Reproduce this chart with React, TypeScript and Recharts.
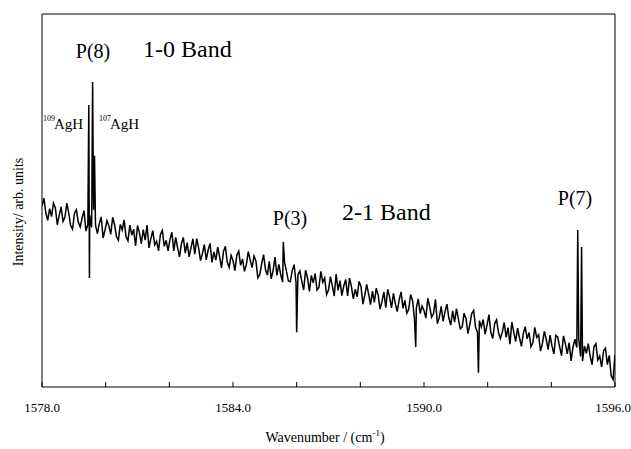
import { LineChart, Line, XAxis, YAxis, ReferenceArea } from 'recharts'

// spectrum sampled every 0.06 cm-1 from 1578.0 to 1596.0
const wnStart = 1578.0
const wnStep = 0.06

const intensity = [
  48.5, 50.6, 46.7, 44.7, 47.8, 45.7, 49.3, 48.0, 43.5, 46.0,
  48.3, 44.4, 45.5, 49.3, 46.6, 43.3, 42.3, 46.6, 47.5, 44.2,
  42.9, 45.3, 47.3, 41.8, 43.6, 46.0, 42.8, 47.5, 43.5, 41.1,
  43.8, 45.6, 39.9, 42.1, 44.6, 43.2, 40.9, 45.5, 43.5, 40.3,
  39.4, 43.6, 42.1, 44.8, 40.3, 39.2, 43.4, 40.7, 42.3, 37.8,
  43.3, 41.4, 38.4, 42.2, 39.4, 43.4, 37.3, 39.8, 41.9, 38.1,
  39.1, 36.5, 40.9, 42.0, 37.7, 39.3, 36.5, 39.6, 41.5, 36.5,
  40.1, 37.3, 34.9, 38.4, 40.1, 35.9, 38.7, 34.9, 37.3, 39.7,
  35.6, 39.8, 37.3, 33.9, 35.8, 38.2, 34.1, 36.8, 38.5, 33.4,
  36.2, 34.0, 37.5, 34.9, 31.9, 36.3, 37.7, 33.5, 32.1, 35.3,
  33.9, 31.2, 35.3, 36.4, 32.6, 34.3, 31.0, 32.8, 36.3, 34.0,
  32.0, 35.1, 33.8, 29.3, 30.1, 33.0, 35.5, 31.5, 30.0, 33.7,
  29.0, 31.2, 34.8, 29.9, 32.9, 30.1, 28.1, 33.4, 31.0, 28.4,
  28.2, 31.2, 32.8, 28.0, 30.1, 31.1, 28.4, 26.0, 31.3, 29.3,
  25.6, 29.9, 27.9, 30.4, 26.0, 26.7, 31.0, 28.1, 29.2, 24.8,
  26.0, 29.6, 27.1, 24.4, 30.3, 25.9, 28.5, 24.5, 27.1, 28.8,
  24.4, 29.2, 26.9, 23.6, 26.2, 24.2, 28.3, 27.0, 22.2, 24.6,
  27.5, 24.9, 22.1, 25.7, 22.7, 26.5, 24.6, 20.9, 22.9, 25.5,
  21.3, 26.2, 24.1, 21.2, 25.1, 22.3, 20.2, 23.4, 25.5, 21.1,
  23.2, 19.8, 20.8, 24.8, 23.2, 18.4, 21.2, 23.6, 19.7, 21.7,
  20.5, 18.5, 23.8, 21.4, 18.7, 19.7, 23.5, 17.0, 18.6, 21.6,
  17.6, 20.2, 22.2, 18.5, 16.6, 20.4, 17.4, 21.0, 18.2, 15.6,
  16.1, 19.8, 18.3, 14.3, 16.8, 19.7, 20.5, 16.0, 14.7, 17.8,
  16.1, 18.1, 14.2, 16.6, 19.4, 14.6, 13.0, 17.0, 18.0, 14.6,
  13.0, 14.7, 17.3, 13.3, 15.9, 11.5, 17.4, 14.7, 12.2, 15.8,
  13.2, 10.9, 14.4, 16.2, 12.9, 14.6, 10.8, 11.9, 16.0, 13.3,
  14.0, 9.6, 11.7, 14.9, 12.8, 10.0, 13.9, 11.0, 8.9, 13.8,
  13.4, 10.8, 8.4, 13.7, 11.7, 8.9, 11.9, 7.0, 10.6, 12.8,
  10.6, 13.0, 8.2, 6.9, 11.0, 9.0, 11.6, 8.3, 6.0, 10.8,
  11.6, 7.2, 8.3, 5.4, 9.7, 10.4, 6.0, 8.5, 3.0, 2.0,
  8.6,
]

// sharp lines (peaks and dips) lying between grid samples
const lineWn = [1579.47, 1579.49, 1579.59, 1579.65, 1585.58, 1586.0, 1589.74, 1591.71, 1594.83, 1594.95]
const lineInt = [75.6, 29.2, 81.8, 62.0, 38.9, 14.7, 10.7, 3.8, 42.1, 37.5]

const xTicks = [1578, 1580, 1582, 1584, 1586, 1588, 1590, 1592, 1594, 1596]
const xTickLabels = [1578, 1584, 1590, 1596]

const data = intensity
  .map((v, i) => ({ wn: +(wnStart + i * wnStep).toFixed(3), v }))
  .concat(lineWn.map((wn, i) => ({ wn, v: lineInt[i] })))
  .sort((a, b) => a.wn - b.wn)

const serif = '"Liberation Serif", "Times New Roman", "DejaVu Serif", serif'

function WnTick(props: any) {
  const { x, y, payload } = props
  const show = xTickLabels.includes(payload.value)
  return (
    <g>
      <line x1={x} x2={x} y1={y - 5} y2={y} stroke="#000" strokeWidth={1} />
      {show && (
        <text x={payload.value === 1596 ? x - 2 : x} y={y + 25} textAnchor="middle" fill="#000"
          style={{ fontFamily: serif, fontSize: 13 }}>
          {payload.value.toFixed(1)}
        </text>
      )}
    </g>
  )
}

function T({ x, y, size, anchor, children, transform }: any) {
  return (
    <text x={x} y={y} textAnchor={anchor || 'start'} transform={transform} fill="#000"
      style={{ fontFamily: serif, fontSize: size }}>
      {children}
    </text>
  )
}

export default function App() {
  return (
    <div style={{ position: 'absolute', left: 0, top: 0, width: 631, height: 449, background: '#fff' }}>
      <LineChart width={631} height={449} data={data} margin={{ top: 14, right: 16, left: 42, bottom: 0 }}>
        <XAxis
          type="number"
          dataKey="wn"
          domain={[1578, 1596]}
          ticks={xTicks}
          height={62}
          axisLine={false}
          tickLine={false}
          tickSize={0}
          tickMargin={0}
          tick={<WnTick />}
          allowDataOverflow
        />
        <YAxis hide domain={[0, 100]} allowDataOverflow />
        <ReferenceArea x1={1578} x2={1596} y1={0} y2={100} fill="none" stroke="#000" strokeWidth={1} fillOpacity={0} />
        <Line type="linear" dataKey="v" stroke="#000" strokeWidth={1.5} dot={false} isAnimationActive={false} />
      </LineChart>
      <svg width={631} height={449} style={{ position: 'absolute', left: 0, top: 0, pointerEvents: 'none' }}>
        <T x={93} y={58} size={20} anchor="middle">P(8)</T>
        <T x={143} y={57} size={24}>1-0 Band</T>
        <T x={43} y={121} size={8}>109</T>
        <T x={54} y={129} size={15}>AgH</T>
        <T x={99} y={121} size={8}>107</T>
        <T x={110} y={129} size={15}>AgH</T>
        <T x={290} y={225} size={20} anchor="middle">P(3)</T>
        <T x={342} y={220} size={24}>2-1 Band</T>
        <T x={575} y={205} size={20} anchor="middle">P(7)</T>
        <T x={23} y={212} size={14} anchor="middle" transform="rotate(-90 23 212)">Intensity/ arb. units</T>
        <text x={325} y={442} textAnchor="middle" fill="#000" style={{ fontFamily: serif, fontSize: 14 }}>
          Wavenumber / (cm<tspan fontSize={9} dy={-6}>-1</tspan><tspan dy={6}>)</tspan>
        </text>
      </svg>
    </div>
  )
}
